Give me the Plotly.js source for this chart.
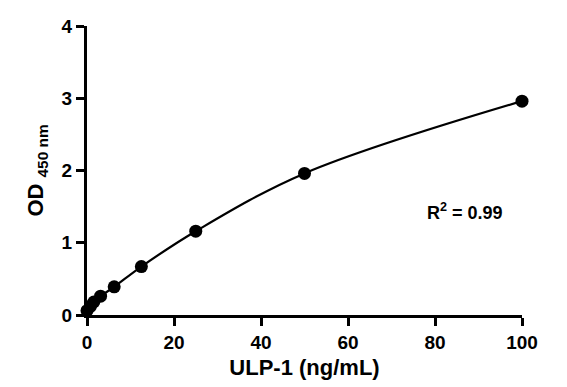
<!DOCTYPE html>
<html>
<head>
<meta charset="utf-8">
<script src="https://cdn.plot.ly/plotly-3.0.1.min.js"></script>
<style>html,body{margin:0;padding:0;background:#fff;}#chart{width:567px;height:387px;}</style>
</head>
<body>
<div id="chart"></div>
<script>
const concentration = [0, 0.78, 1.56, 3.125, 6.25, 12.5, 25, 50, 100];
const od450 = [0.06, 0.12, 0.18, 0.26, 0.39, 0.67, 1.16, 1.96, 2.96];
const xTicks = [0, 20, 40, 60, 80, 100];
const yTicks = [0, 1, 2, 3, 4];
const rSquaredLabel = 'R<sup>2</sup> = 0.99';

const font = {family: '"Liberation Sans", Arial, sans-serif', color: '#000'};

const traces = [
  {
    x: concentration, y: od450, type: 'scatter', mode: 'lines',
    line: {color: '#000', width: 2.2, shape: 'spline', smoothing: 1},
    hoverinfo: 'skip', cliponaxis: false
  },
  {
    x: concentration, y: od450, type: 'scatter', mode: 'markers',
    marker: {color: '#000', size: 13},
    cliponaxis: false
  }
];

const layout = {
  width: 567, height: 387,
  margin: {l: 87, r: 45, t: 26, b: 72},
  paper_bgcolor: '#fff', plot_bgcolor: '#fff',
  showlegend: false,
  font: font,
  xaxis: {
    range: [0, 100], tickvals: xTicks, ticktext: xTicks.map(String),
    showgrid: false, zeroline: false,
    showline: true, linecolor: '#000', linewidth: 3,
    ticks: 'outside', ticklen: 8, tickwidth: 3, tickcolor: '#000',
    tickfont: {family: font.family, size: 19, color: '#000', weight: 'bold'},
    title: {text: '<b>ULP-1 (ng/mL)</b>', font: {family: font.family, size: 22, color: '#000'}, standoff: 8}
  },
  yaxis: {
    range: [0, 4], tickvals: yTicks, ticktext: yTicks.map(String),
    showgrid: false, zeroline: false,
    showline: true, linecolor: '#000', linewidth: 3,
    ticks: 'outside', ticklen: 8, tickwidth: 3, tickcolor: '#000',
    tickfont: {family: font.family, size: 19, color: '#000', weight: 'bold'},
    title: {text: '<b>OD <sub>450 nm</sub></b>', font: {family: font.family, size: 22, color: '#000'}, standoff: 12}
  },
  annotations: [{
    x: 87, y: 1.43, xref: 'x', yref: 'y', showarrow: false,
    text: '<b>' + rSquaredLabel + '</b>',
    font: {family: font.family, size: 18, color: '#000'}
  }]
};

Plotly.newPlot('chart', traces, layout, {displayModeBar: false, staticPlot: true});
</script>
</body>
</html>
